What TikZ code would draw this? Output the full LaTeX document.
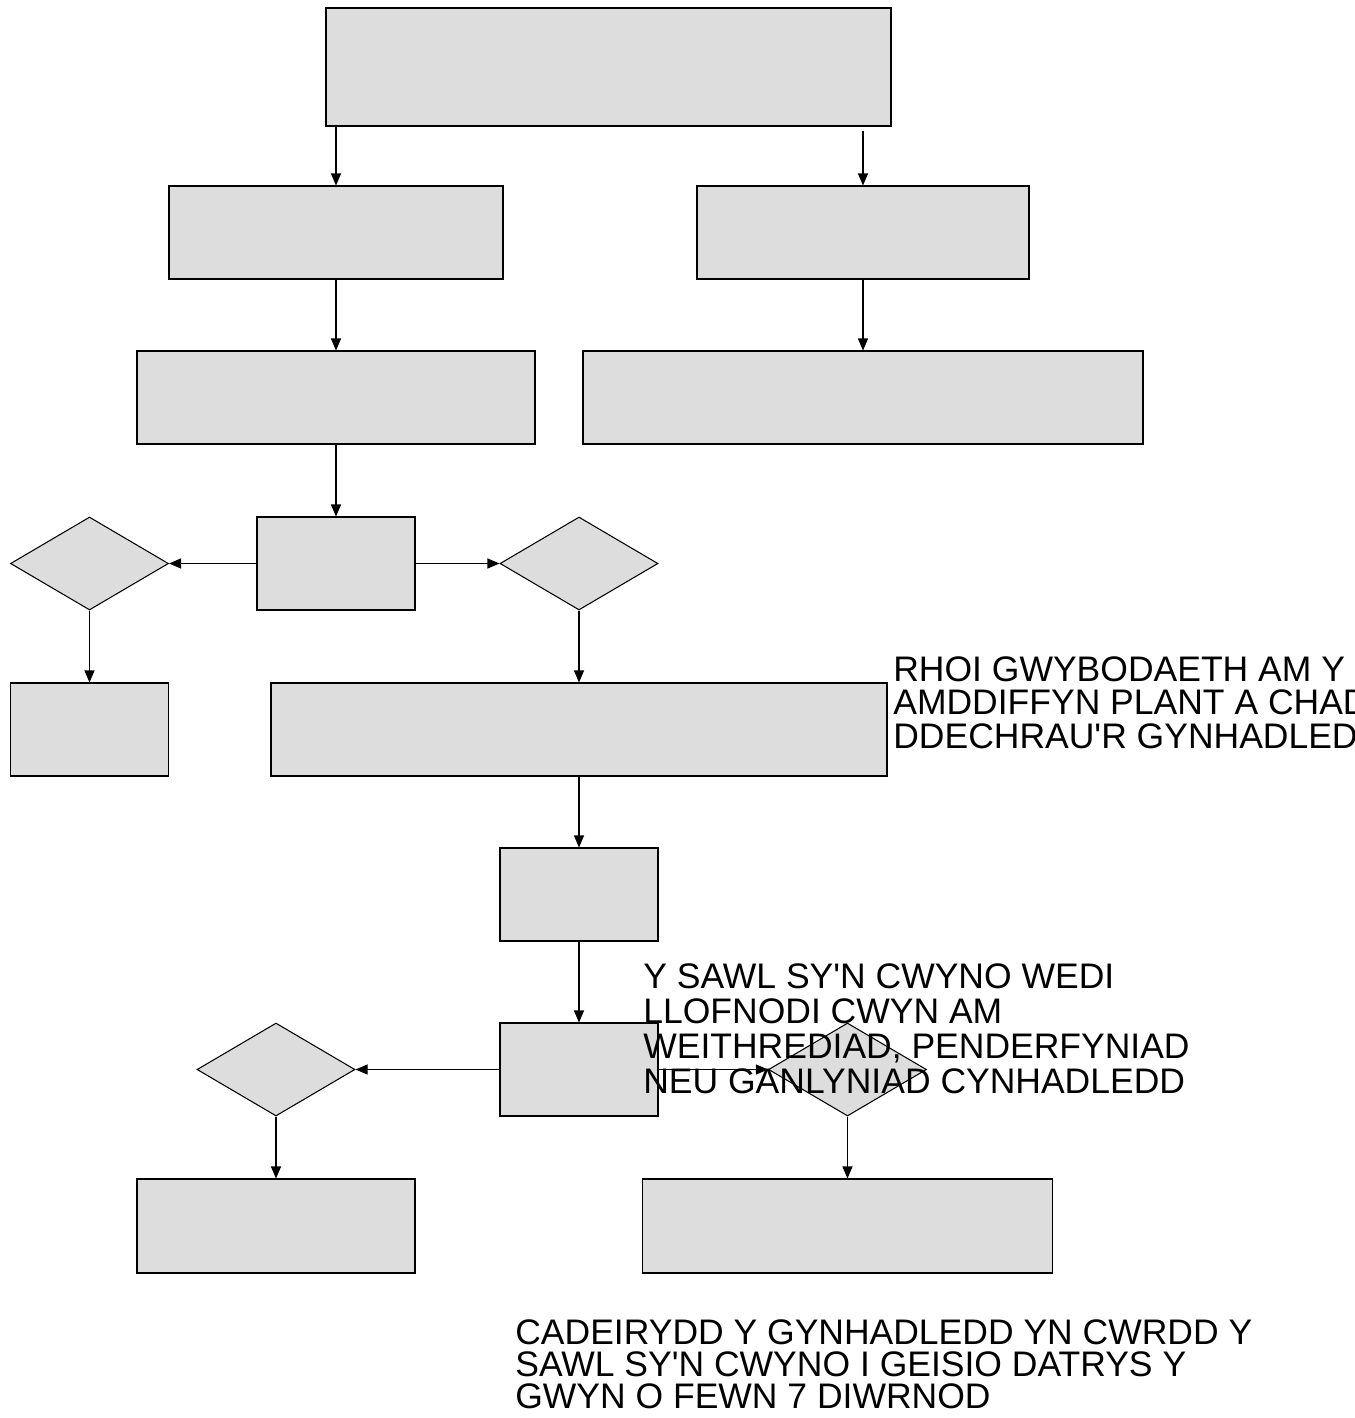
\documentclass[tikz,border=0pt]{standalone}
\usepackage{fontspec}
\setmainfont{Liberation Sans}
\usepackage{tikz}
\usetikzlibrary{arrows.meta, shapes.geometric, positioning, calc}

\definecolor{boxgray}{HTML}{DDDDDD}

\tikzset{
	box/.style={draw, fill=boxgray, line width=0.6pt, inner sep=0pt, minimum height=1.86cm},
	choice/.style={draw, fill=boxgray, diamond, line width=0.6pt, inner sep=0pt,
		minimum width=3.16cm, minimum height=1.86cm},
	flow/.style={-{Triangle[length=0.24cm, width=0.2cm]}, line width=0.6pt},
	note/.style={anchor=base west, align=left, inner sep=0pt,
		font=\fontsize{20.2pt}{#1}\selectfont},
	note/.default={19pt}
}

\begin{document}
\begin{tikzpicture}
			\useasboundingbox (0,0) rectangle (27.1,-28.36);
			
			% top of the chart
			\node[box, minimum width=11.30cm, minimum height=2.36cm] (top) at (12.17,-1.34) {};
			\node[box, minimum width=6.68cm] (left1) at (6.72,-4.65) {};
			\node[box, minimum width=6.64cm] (right1) at (17.26,-4.65) {};
			\node[box, minimum width=7.96cm] (left2) at (6.72,-7.95) {};
			\node[box, minimum width=11.20cm] (right2) at (17.26,-7.95) {};
			
			% first split
			\node[box, minimum width=3.16cm] (split) at (6.72,-11.27) {};
			\node[choice] (choiceL) at (1.79,-11.27) {};
			\node[choice] (choiceR) at (11.58,-11.27) {};
			\node[box, minimum width=3.16cm] (endL) at (1.79,-14.59) {};
			\node[box, minimum width=12.32cm] (wide) at (11.58,-14.59) {};
			\node[box, minimum width=3.16cm] (small) at (11.58,-17.89) {};
			
			% second split
			\node[box, minimum width=3.16cm] (split2) at (11.58,-21.39) {};
			\node[choice] (choiceLL) at (5.52,-21.39) {};
			\node[choice] (choiceLR) at (16.95,-21.39) {};
			\node[box, minimum width=5.56cm, minimum height=1.88cm] (bottomL) at (5.52,-24.52) {};
			\node[box, minimum width=8.20cm, minimum height=1.88cm] (bottomR) at (16.95,-24.52) {};
			
			\draw[flow] (left1.north |- top.south) -- (left1.north);
			\draw[flow] ($(right1.north |- top.south)+(0,-0.08)$) -- (right1.north);
			\draw[flow] (left1) -- (left2);
			\draw[flow] (right1) -- (right2);
			\draw[flow] (left2) -- (split);
			\draw[flow] (split.west) -- (choiceL.east);
			\draw[flow] (split.east) -- (choiceR.west);
			\draw[flow] (choiceL.south) -- (endL.north);
			\draw[flow] (choiceR.south) -- (wide.north);
			\draw[flow] (wide) -- (small);
			\draw[flow] (small) -- (split2);
			\draw[flow] (split2.west) -- (choiceLL.east);
			\draw[flow] (split2.east) -- (choiceLR.west);
			\draw[flow] (choiceLL.south) -- (bottomL.north);
			\draw[flow] (choiceLR.south) -- (bottomR.north);
			
			% loose texts (anchored on the last line)
			\node[note] (noteA) at (17.86,-14.96) {RHOI GWYBODAETH AM Y\\AMDDIFFYN PLANT A CHAD\\DDECHRAU\textquotesingle R GYNHADLEDD};
			\node[note=19.9pt] (noteB) at (12.86,-21.86) {Y SAWL SY\textquotesingle N CWYNO WEDI\\LLOFNODI CWYN AM\\WEITHREDIAD, PENDERFYNIAD\\NEU GANLYNIAD CYNHADLEDD};
			\node[note=18pt] (noteC) at (10.30,-28.16) {CADEIRYDD Y GYNHADLEDD YN CWRDD Y\\SAWL SY\textquotesingle N CWYNO I GEISIO DATRYS Y\\GWYN O FEWN 7 DIWRNOD};
		\end{tikzpicture}
\end{document}
